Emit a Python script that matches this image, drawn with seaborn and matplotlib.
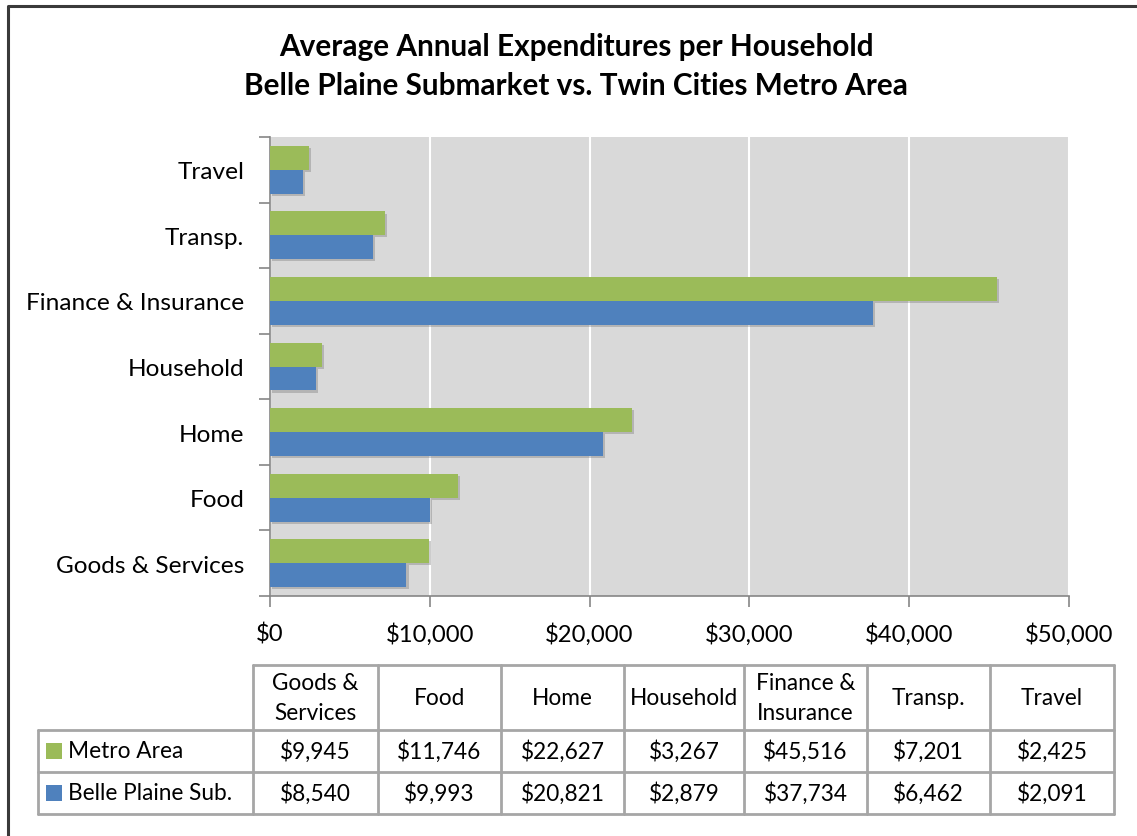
import matplotlib
matplotlib.use("Agg")
import matplotlib.pyplot as plt
import matplotlib.patheffects as pe
from matplotlib.patches import Rectangle
from matplotlib.lines import Line2D
import seaborn as sns
import pandas as pd

# Expenditure categories (table order, left to right)
categories = ["Goods & Services", "Food", "Home", "Household",
              "Finance & Insurance", "Transp.", "Travel"]
table_headers = ["Goods &\nServices", "Food", "Home", "Household",
                 "Finance &\nInsurance", "Transp.", "Travel"]
metro_area = [9945, 11746, 22627, 3267, 45516, 7201, 2425]
belle_plaine = [8540, 9993, 20821, 2879, 37734, 6462, 2091]
series_names = ["Metro Area", "Belle Plaine Sub."]
series_colors = ["#9BBB59", "#4F81BD"]
x_ticks = [0, 10000, 20000, 30000, 40000, 50000]

sns.set_theme(style="white")
plt.rcParams["font.family"] = ["Lato", "DejaVu Sans"]

W, H = 1137, 837
fig = plt.figure(figsize=(W / 100, H / 100), dpi=100)

def fx(px):
    return px / W

def fy(py):
    return 1 - py / H

# Long-format data for seaborn
rows = []
for name, vals in zip(series_names, [metro_area, belle_plaine]):
    for cat, v in zip(categories, vals):
        rows.append({"Category": cat, "Series": name, "Value": v})
df = pd.DataFrame(rows)

ax = fig.add_axes([fx(270), fy(597), fx(1069) - fx(270), fy(138) - fy(597)])
ax.set_facecolor("#D9D9D9")
sns.barplot(data=df, y="Category", x="Value", hue="Series",
            order=categories[::-1], hue_order=series_names,
            palette=series_colors, orient="h", width=0.73,
            saturation=1, legend=False, ax=ax, zorder=3)

shadow = [pe.SimplePatchShadow(offset=(1.5, -1.5), shadow_rgbFace="#6f6f6f", alpha=0.35),
          pe.Normal()]
for p in ax.patches:
    p.set_linewidth(0)
    p.set_path_effects(shadow)

ax.set_xlim(0, 50000)
ax.set_ylim(len(categories) - 0.5, -0.5)
ax.set_xticks(x_ticks)
ax.set_xticklabels([f"${v:,.0f}" for v in x_ticks], fontsize=17.2, color="#000000")
ax.xaxis.grid(True, color="white", linewidth=1.5, zorder=0)
ax.yaxis.grid(False)
ax.set_axisbelow(True)
ax.set_xlabel("")
ax.set_ylabel("")

# Category labels at bar centres, tick marks at band boundaries
ax.set_yticks(range(len(categories)))
ax.set_yticklabels(categories[::-1], fontsize=17.6, color="#000000")
ax.set_yticks([i - 0.5 for i in range(len(categories) + 1)], minor=True)
ax.tick_params(axis="y", which="major", length=0, pad=18.5)
ax.tick_params(axis="y", which="minor", length=8, width=1.2, color="#868686", left=True)
ax.tick_params(axis="x", which="major", length=8, width=1.2, color="#868686",
               bottom=True, pad=11)
for side in ["top", "right"]:
    ax.spines[side].set_visible(False)
for side in ["left", "bottom"]:
    ax.spines[side].set_color("#868686")
    ax.spines[side].set_linewidth(1.2)

# Title
fig.text(fx(576), fy(47), "Average Annual Expenditures per Household",
         ha="center", va="center", fontsize=21.4, fontweight="bold", color="#000000")
fig.text(fx(576), fy(86), "Belle Plaine Submarket vs. Twin Cities Metro Area",
         ha="center", va="center", fontsize=21.4, fontweight="bold", color="#000000")

# Data table beneath the chart
col_edges = [253, 378, 501, 624, 744, 867, 990, 1114]
row_edges = [666, 731, 773, 815]
label_left = 38
grid_color = "#A6A6A6"
table_fs = 16.3

def hline(x0, x1, y):
    fig.add_artist(Line2D([fx(x0), fx(x1)], [fy(y), fy(y)], color=grid_color,
                          linewidth=2, transform=fig.transFigure))

def vline(x, y0, y1):
    fig.add_artist(Line2D([fx(x), fx(x)], [fy(y0), fy(y1)], color=grid_color,
                          linewidth=2, transform=fig.transFigure))

hline(col_edges[0], col_edges[-1], row_edges[0])
for y in row_edges[1:]:
    hline(label_left, col_edges[-1], y)
for x in col_edges:
    vline(x, row_edges[0], row_edges[-1])
vline(label_left, row_edges[1], row_edges[-1])

for i, head in enumerate(table_headers):
    cx = (col_edges[i] + col_edges[i + 1]) / 2
    cy = (row_edges[0] + row_edges[1]) / 2
    fig.text(fx(cx), fy(cy), head, ha="center", va="center", fontsize=table_fs,
             linespacing=1.55, color="#000000")

for r, (name, color, vals) in enumerate(zip(series_names, series_colors,
                                            [metro_area, belle_plaine])):
    cy = (row_edges[r + 1] + row_edges[r + 2]) / 2
    fig.add_artist(Rectangle((fx(46), fy(cy + 8)), fx(16), fy(cy - 8) - fy(cy + 8),
                             facecolor=color, edgecolor="none",
                             transform=fig.transFigure))
    fig.text(fx(68), fy(cy), name, ha="left", va="center", fontsize=table_fs,
             color="#000000")
    for i, v in enumerate(vals):
        cx = (col_edges[i] + col_edges[i + 1]) / 2
        fig.text(fx(cx), fy(cy), f"${v:,.0f}", ha="center", va="center",
                 fontsize=table_fs, color="#000000")

# Chart-area frame (left and top edges)
fig.add_artist(Line2D([fx(8), fx(8), fx(1137)], [fy(837), fy(7), fy(7)],
                      color="#3A3A3A", linewidth=2.2, transform=fig.transFigure))

fig.savefig("out.png", dpi=100, facecolor="white")
